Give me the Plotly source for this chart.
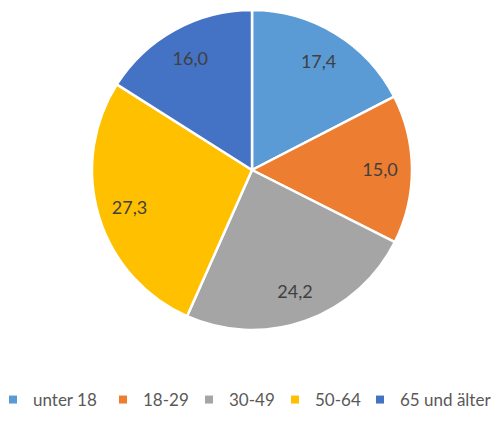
import plotly.graph_objects as go

categories = ["unter 18", "18-29", "30-49", "50-64", "65 und älter"]
values = [17.4, 15.0, 24.2, 27.3, 16.0]
colors = ["#5B9BD5", "#ED7D31", "#A5A5A5", "#FFC000", "#4472C4"]
labels_text = [f"{v:.1f}".replace(".", ",") for v in values]

W, H = 501, 430
OFF = 8  # page body margin of the html page
cx, cy, r = 252 - OFF, 170 - OFF, 160
dom = dict(x=[(cx - r) / W, (cx + r) / W], y=[1 - (cy + r) / H, 1 - (cy - r) / H])
FONT = "Lato, Open Sans, sans-serif"

fig = go.Figure()
# filled pie
fig.add_trace(go.Pie(
    labels=categories, values=values,
    textinfo="none",
    marker=dict(colors=colors, line=dict(color="white", width=2.5)),
    sort=False, direction="clockwise", rotation=0,
    hoverinfo="label+value", automargin=False, showlegend=False,
    domain=dom,
))
# transparent ring carrying the value labels (places them towards the rim)
fig.add_trace(go.Pie(
    labels=categories, values=values,
    text=labels_text, textinfo="text", textposition="inside",
    insidetextorientation="horizontal",
    textfont=dict(family=FONT, size=18, color="#404040"),
    hole=0.6,
    marker=dict(colors=["rgba(0,0,0,0)"] * len(values), line=dict(width=0)),
    sort=False, direction="clockwise", rotation=0,
    hoverinfo="skip", automargin=False, showlegend=False,
    domain=dom,
))
# legend entries
entry_widths = [80, 56, 56, 55, 100]
for name, col, ew in zip(categories, colors, entry_widths):
    fig.add_trace(go.Scatter(
        x=[None], y=[None], mode="markers", name=name,
        marker=dict(symbol="square", size=8, color=col),
        showlegend=True, legendwidth=ew,
    ))

fig.update_layout(
    width=W, height=H,
    margin=dict(l=0, r=0, t=0, b=0),
    paper_bgcolor="white",
    plot_bgcolor="white",
    xaxis=dict(visible=False),
    yaxis=dict(visible=False),
    showlegend=True,
    legend=dict(
        orientation="h",
        x=0, xanchor="left",
        y=1 - (400 - OFF) / H, yanchor="middle",
        indentation=-15,
        font=dict(family=FONT, size=17, color="#595959"),
        itemwidth=30,
        traceorder="normal",
        bgcolor="rgba(0,0,0,0)",
    ),
)

fig.write_html("out.html")
